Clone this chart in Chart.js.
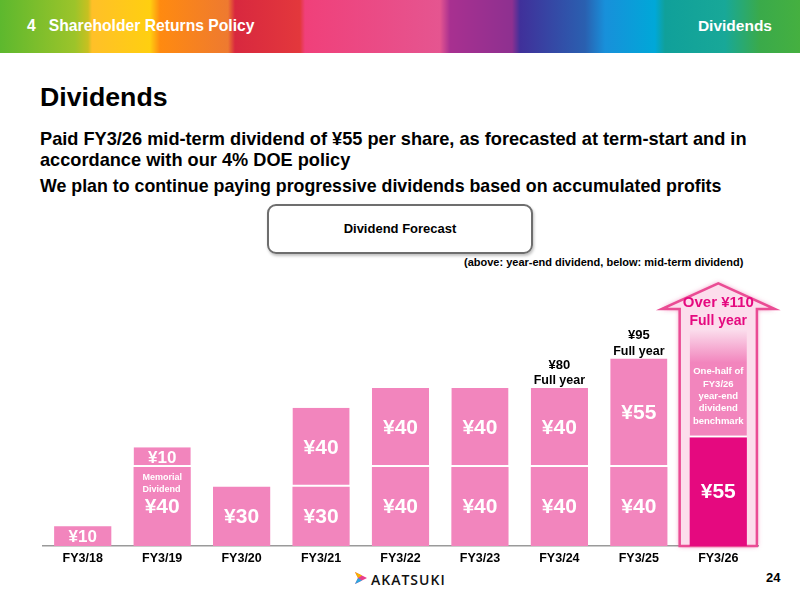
<!DOCTYPE html>
<html>
<head>
<meta charset="utf-8">
<script src="https://cdn.jsdelivr.net/npm/chart.js@4"></script>
<style>
  html,body{margin:0;padding:0;width:800px;height:600px;overflow:hidden;background:#fff;font-family:"Liberation Sans",Arial,sans-serif;}
  #header{position:absolute;left:0;top:0;width:800px;height:53px;
    background:linear-gradient(90deg,#5DB82E 0px,#9CC42A 75px,#C8C020 88px,#FFC028 92px,#FFCF10 150px,#FF8A10 160px,#EE7A30 228px,#D8283F 235px,#E3383C 300px,#F0407A 305px,#E55590 440px,#A83090 450px,#8E3090 512px,#40309A 520px,#2A60B0 585px,#1890DA 605px,#00A8D8 655px,#10A09A 665px,#18A898 725px,#3AAA4A 760px,#45B040 800px);}
  #header .l{position:absolute;left:27px;top:17px;color:#fff;font-weight:bold;font-size:15.7px;}
  #header .r{position:absolute;right:28px;top:17px;color:#fff;font-weight:bold;font-size:15.5px;}
  .t{position:absolute;font-weight:bold;color:#000;white-space:nowrap;}
  #box{position:absolute;left:267px;top:204px;width:262px;height:46px;border:2px solid #6e6e6e;border-radius:9px;box-shadow:1px 2px 3px rgba(0,0,0,0.25);text-align:center;line-height:46px;font-weight:bold;font-size:13px;}
  canvas{position:absolute;left:0;top:0;}
</style>
</head>
<body>
<div id="header"><span class="l">4&nbsp;&nbsp;&nbsp;Shareholder Returns Policy</span><span class="r">Dividends</span></div>
<div class="t" style="left:40px;top:82px;font-size:26.7px;">Dividends</div>
<div class="t" style="left:40px;top:129px;font-size:18.2px;line-height:21px;">Paid FY3/26 mid-term dividend of ¥55 per share, as forecasted at term-start and in<br>accordance with our 4% DOE policy</div>
<div class="t" style="left:40px;top:176px;font-size:17.8px;">We plan to continue paying progressive dividends based on accumulated profits</div>
<div id="box">Dividend Forecast</div>
<div class="t" style="left:464px;top:256px;font-size:11px;">(above: year-end dividend, below: mid-term dividend)</div>
<div class="t" style="left:766px;top:570px;font-size:13px;">24</div>
<svg style="position:absolute;left:354px;top:571px" width="14" height="14" viewBox="0 0 14 14">
  <polygon points="1,1 13,7 1,13 4,7" fill="#E83E8C"/>
  <polygon points="1,1 8,4.5 4,7" fill="#F7B500"/>
  <polygon points="4,7 8,9.5 1,13" fill="#2BA8E0"/>
</svg>
<div class="t" style="left:371px;top:570px;font-size:14px;font-weight:600;letter-spacing:1px;font-family:'Open Sans','Liberation Sans',sans-serif;color:#111;">AKATSUKI</div>
<canvas id="c" width="800" height="600"></canvas>
<script>
const categories = ["FY3/18","FY3/19","FY3/20","FY3/21","FY3/22","FY3/23","FY3/24","FY3/25","FY3/26"];
const lowerValues = [10, 40, 30, 30, 40, 40, 40, 40, 55];
const upperValues = [null, 10, null, 40, 40, 40, 40, 55, 55];
const fullYearLabels = [null, null, null, null, null, null, "¥80", "¥95", "Over ¥110"];
const lowerNotes = [null, "Memorial\nDividend", null, null, null, null, null, null, null];
const upperNotes = [null, null, null, null, null, null, null, null, "One-half of\nFY3/26\nyear-end\ndividend\nbenchmark"];
const forecastIndex = 8;
const arrowTopValue = 133;
const arrowHeadBaseValue = 120;

const PINK = "#F285BD", DARK = "#E5097F";
const FONT = "'Liberation Sans', Arial, sans-serif";

function upperColor(ctx){
  if (ctx.dataIndex !== forecastIndex) return PINK;
  const ch = ctx.chart; const y = ch.scales && ch.scales.y;
  if (!y || !ch.chartArea) return PINK;
  const top = y.getPixelForValue(lowerValues[forecastIndex] + upperValues[forecastIndex]);
  const g = ch.ctx.createLinearGradient(0, top, 0, top + 34);
  g.addColorStop(0, "#FBE0EE");
  g.addColorStop(1, PINK);
  return g;
}

const arrowPlugin = {
  id: "arrow",
  beforeDatasetsDraw(chart){
    const ctx = chart.ctx, y = chart.scales.y;
    const bar = chart.getDatasetMeta(0).data[forecastIndex];
    const cx = bar.x, hw = bar.width / 2;
    const base = y.getPixelForValue(0), hb = y.getPixelForValue(arrowHeadBaseValue), tip = y.getPixelForValue(arrowTopValue);
    const sw = hw + 10, hdw = hw + 28;
    ctx.save();
    ctx.beginPath();
    ctx.moveTo(cx - sw, base); ctx.lineTo(cx - sw, hb); ctx.lineTo(cx - hdw, hb);
    ctx.lineTo(cx, tip); ctx.lineTo(cx + hdw, hb); ctx.lineTo(cx + sw, hb); ctx.lineTo(cx + sw, base);
    ctx.closePath();
    ctx.shadowColor = "rgba(230,60,140,0.7)"; ctx.shadowBlur = 5;
    ctx.fillStyle = "#FCDDEC"; ctx.fill();
    ctx.shadowBlur = 0;
    ctx.lineWidth = 2.5; ctx.strokeStyle = "#EA4C94"; ctx.lineJoin = "miter"; ctx.stroke();
    ctx.restore();
  },
  afterDatasetsDraw(chart){
    const ctx = chart.ctx, y = chart.scales.y;
    const m0 = chart.getDatasetMeta(0), m1 = chart.getDatasetMeta(1);
    ctx.save();
    ctx.textAlign = "center"; ctx.textBaseline = "middle";
    categories.forEach((c, i) => {
      const b0 = m0.data[i];
      ctx.fillStyle = "#fff";
      ctx.font = "bold 21px " + FONT;
      let cy0 = (b0.y + b0.base) / 2;
      if (lowerValues[i] === 10) { ctx.font = "bold 17px " + FONT; }
      ctx.fillText("¥" + lowerValues[i], b0.x, cy0 + 1);
      if (lowerNotes[i]) {
        ctx.font = "bold 9px " + FONT; ctx.textAlign = "left";
        lowerNotes[i].split("\n").forEach((t, k) => ctx.fillText(t, b0.x - b0.width / 2 + 9, b0.y + 11 + k * 12));
        ctx.textAlign = "center";
      }
      if (upperValues[i] != null) {
        const b1 = m1.data[i];
        if (upperNotes[i]) {
          ctx.font = "bold 9.5px " + FONT;
          upperNotes[i].split("\n").forEach((t, k) => ctx.fillText(t, b1.x, b1.y + 43 + k * 12.3));
        } else {
          ctx.font = (upperValues[i] === 10 ? "bold 17px " : "bold 21px ") + FONT;
          ctx.fillText("¥" + upperValues[i], b1.x, (b1.y + b1.base) / 2 + 1);
        }
      }
      if (fullYearLabels[i]) {
        const topY = upperValues[i] != null ? m1.data[i].y : b0.y;
        if (i === forecastIndex) {
          const tip = y.getPixelForValue(arrowTopValue);
          ctx.fillStyle = "#E5097F";
          ctx.font = "bold 15px " + FONT;
          ctx.fillText(fullYearLabels[i], b0.x, tip + 20);
          ctx.font = "bold 14px " + FONT;
          ctx.fillText("Full year", b0.x, tip + 38);
        } else {
          ctx.fillStyle = "#000";
          ctx.font = "bold 13px " + FONT;
          ctx.fillText(fullYearLabels[i], b0.x, topY - 23);
          ctx.font = "bold 12.5px " + FONT;
          ctx.fillText("Full year", b0.x, topY - 7);
        }
      }
    });
    ctx.restore();
  }
};

new Chart(document.getElementById("c"), {
  type: "bar",
  data: {
    labels: categories,
    datasets: [
      { label: "Mid-term", data: lowerValues, backgroundColor: (c) => c.dataIndex === forecastIndex ? DARK : PINK, borderWidth: 0 },
      { label: "Year-end", data: upperValues, backgroundColor: upperColor, borderColor: "#fff",
        borderWidth: {top: 0, left: 0, right: 0, bottom: 2}, borderSkipped: false }
    ]
  },
  options: {
    responsive: false, animation: false,
    layout: { padding: { left: 43, right: 42, top: 269.5, bottom: 0 } },
    plugins: { legend: { display: false }, tooltip: { enabled: false } },
    datasets: { bar: { categoryPercentage: 1, barPercentage: 0.72 } },
    scales: {
      x: { stacked: true, grid: { display: false, drawTicks: false },
           border: { display: true, color: "#9a9a9a", width: 1.5 },
           ticks: { color: "#000", padding: 5, font: { family: FONT, weight: "bold", size: 12.5 } },
           afterFit: (s) => { s.height = 54; } },
      y: { stacked: true, display: false, min: 0, max: 140 }
    }
  },
  plugins: [arrowPlugin]
});
</script>
</body>
</html>
